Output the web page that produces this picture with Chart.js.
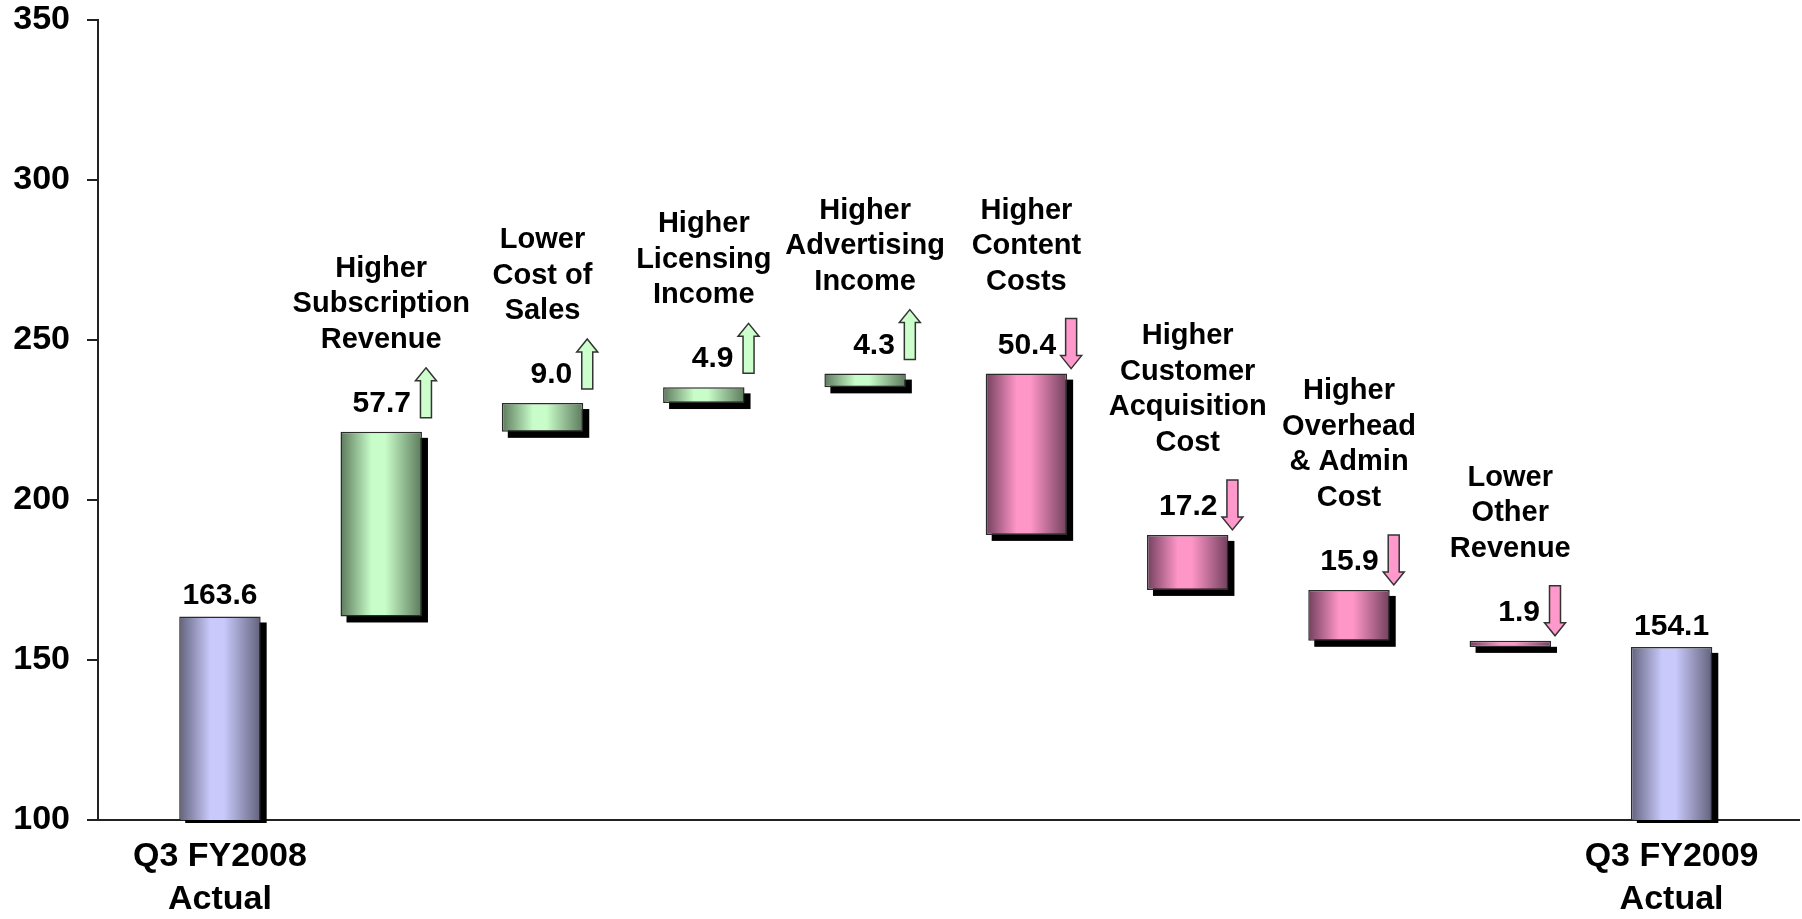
<!DOCTYPE html>
<html>
<head>
<meta charset="utf-8">
<title>Q3 FY2009 bridge</title>
<script src="https://cdn.jsdelivr.net/npm/chart.js@4.4.1/dist/chart.umd.min.js"></script>
<style>
  html, body { margin: 0; padding: 0; background: #fff; }
  #wrap { width: 1802px; height: 919px; position: relative; }
</style>
</head>
<body>
<div id="wrap"><canvas id="bridge"></canvas></div>
<script>
// steps of the bridge, left to right
const stepNames = [
  ['Q3 FY2008', 'Actual'],
  ['Higher', 'Subscription', 'Revenue'],
  ['Lower', 'Cost of', 'Sales'],
  ['Higher', 'Licensing', 'Income'],
  ['Higher', 'Advertising', 'Income'],
  ['Higher', 'Content', 'Costs'],
  ['Higher', 'Customer', 'Acquisition', 'Cost'],
  ['Higher', 'Overhead', '& Admin', 'Cost'],
  ['Lower', 'Other', 'Revenue'],
  ['Q3 FY2009', 'Actual']
];
const stepKinds = ['total', 'up', 'up', 'up', 'up', 'down', 'down', 'down', 'down', 'total'];
const stepValues = [163.6, 57.7, 9.0, 4.9, 4.3, 50.4, 17.2, 15.9, 1.9, 154.1];
const yTicks = [100, 150, 200, 250, 300, 350];

const FONT = '"Liberation Sans", Arial, sans-serif';
const BAR_SHARE = 0.505;   // bar width as a share of the step spacing

const palette = {
  total: { edge: '#62627d', mid: '#c9c9fb' },
  up:    { edge: '#5c7a5c', mid: '#c8fcc8', arrow: '#ccffcc' },
  down:  { edge: '#72405d', mid: '#ff96c8', arrow: '#ff99cc' }
};

// running total -> floating [low, high] for every step
let running = 0;
const ranges = stepValues.map((v, i) => {
  const kind = stepKinds[i];
  if (kind === 'total') {
    running = v;
    return [0, v];
  }
  const from = running;
  running = kind === 'up' ? running + v : running - v;
  return [Math.min(from, running), Math.max(from, running)];
});

// cylinder look: dark edges, light middle
function barFill(c) {
  const chart = c.chart;
  const xs = chart.scales.x;
  const col = palette[stepKinds[c.dataIndex]];
  if (!xs || !chart.chartArea) return col.mid;
  const cx = xs.getPixelForValue(c.dataIndex);
  const half = (xs.getPixelForValue(1) - xs.getPixelForValue(0)) * BAR_SHARE / 2;
  const g = chart.ctx.createLinearGradient(cx - half, 0, cx + half, 0);
  g.addColorStop(0, col.edge);
  g.addColorStop(0.38, col.mid);
  g.addColorStop(0.55, col.mid);
  g.addColorStop(1, col.edge);
  return g;
}

function drawArrow(ctx, cx, top, bottom, up, fill) {
  const shaft = 5.5, head = 10.5, headLen = 13;
  ctx.beginPath();
  if (up) {
    ctx.moveTo(cx, top);
    ctx.lineTo(cx + head, top + headLen);
    ctx.lineTo(cx + shaft, top + headLen);
    ctx.lineTo(cx + shaft, bottom);
    ctx.lineTo(cx - shaft, bottom);
    ctx.lineTo(cx - shaft, top + headLen);
    ctx.lineTo(cx - head, top + headLen);
  } else {
    ctx.moveTo(cx, bottom);
    ctx.lineTo(cx + head, bottom - headLen);
    ctx.lineTo(cx + shaft, bottom - headLen);
    ctx.lineTo(cx + shaft, top);
    ctx.lineTo(cx - shaft, top);
    ctx.lineTo(cx - shaft, bottom - headLen);
    ctx.lineTo(cx - head, bottom - headLen);
  }
  ctx.closePath();
  ctx.fillStyle = fill;
  ctx.fill();
  ctx.lineWidth = 1.5;
  ctx.strokeStyle = '#333';
  ctx.stroke();
}

// hard black drop shadow behind each bar
const barShadow = {
  id: 'barShadow',
  beforeDatasetsDraw(chart) {
    const { ctx, chartArea } = chart;
    ctx.save();
    ctx.beginPath();
    ctx.rect(chartArea.left, chartArea.top, chartArea.right - chartArea.left, chartArea.bottom - chartArea.top + 3);
    ctx.clip();
    ctx.fillStyle = '#000';
    chart.getDatasetMeta(0).data.forEach(bar => {
      const { x, y, base, width } = bar.getProps(['x', 'y', 'base', 'width'], true);
      ctx.fillRect(x - width / 2 + 6, Math.min(y, base) + 6, width, Math.abs(base - y));
    });
    ctx.restore();
  }
};

// value labels, arrows and step descriptions
const bridgeNotes = {
  id: 'bridgeNotes',
  afterDatasetsDraw(chart) {
    const { ctx } = chart;
    ctx.save();
    chart.getDatasetMeta(0).data.forEach((bar, i) => {
      const { x, y, base, width } = bar.getProps(['x', 'y', 'base', 'width'], true);
      const top = Math.min(y, base);
      const kind = stepKinds[i];
      const label = stepValues[i].toFixed(1);
      ctx.textBaseline = 'alphabetic';
      ctx.font = 'bold 30px ' + FONT;
      if (kind === 'total') {
        ctx.fillStyle = '#000';
        ctx.textAlign = 'center';
        ctx.fillText(label, x, top - 12);
        return;
      }
      const ax = x + width / 2 + 4;
      const arrowBottom = kind === 'up' ? top - 14 : top - 5;
      drawArrow(ctx, ax, arrowBottom - 50, arrowBottom, kind === 'up', palette[kind].arrow);

      const valueBase = top - 20;
      ctx.fillStyle = '#000';
      ctx.textAlign = 'right';
      ctx.fillText(label, ax - 15, valueBase);

      ctx.font = 'bold 29px ' + FONT;
      ctx.textAlign = 'center';
      const lines = stepNames[i];
      const lastBase = valueBase - 64;
      lines.forEach((line, k) => {
        ctx.fillText(line, x, lastBase - (lines.length - 1 - k) * 35.5);
      });
    });
    ctx.restore();
  }
};

new Chart(document.getElementById('bridge'), {
  type: 'bar',
  data: {
    datasets: [{
      data: ranges.map((r, i) => ({ x: i, y: r })),
      backgroundColor: barFill,
      borderColor: '#2b2b2b',
      borderWidth: 1.5,
      borderSkipped: false,
      categoryPercentage: 1,
      barPercentage: BAR_SHARE,
      clip: 0
    }]
  },
  options: {
    responsive: true,
    maintainAspectRatio: false,
    animation: false,
    layout: { padding: { left: 0, top: 20, right: 3, bottom: 0 } },
    plugins: {
      legend: { display: false },
      tooltip: { enabled: false }
    },
    scales: {
      x: {
        type: 'linear',
        min: -0.756,
        max: 9.79,
        offset: false,
        z: 1,
        grid: { display: false, drawTicks: false, offset: false },
        border: { display: true, color: '#222', width: 2 },
        afterBuildTicks: s => { s.ticks = [{ value: 0 }, { value: stepNames.length - 1 }]; },
        afterFit: s => { s.height = 99; },
        ticks: {
          autoSkip: false,
          maxRotation: 0,
          padding: 16,
          color: '#000',
          font: { family: FONT, size: 34, weight: 'bold', lineHeight: 1.24 },
          callback: v => stepNames[v]
        }
      },
      y: {
        min: 100,
        max: 350,
        afterBuildTicks: s => { s.ticks = yTicks.map(v => ({ value: v })); },
        afterFit: s => {
          s.width = 98;
          s.paddingTop = 0;
          s.paddingBottom = 0;
        },
        grid: { drawOnChartArea: false, tickLength: 11, color: '#222', lineWidth: 2 },
        border: { color: '#222', width: 2 },
        ticks: {
          padding: 17,
          color: '#000',
          font: { family: FONT, size: 34, weight: 'bold' }
        }
      }
    }
  },
  plugins: [barShadow, bridgeNotes]
});
</script>
</body>
</html>
